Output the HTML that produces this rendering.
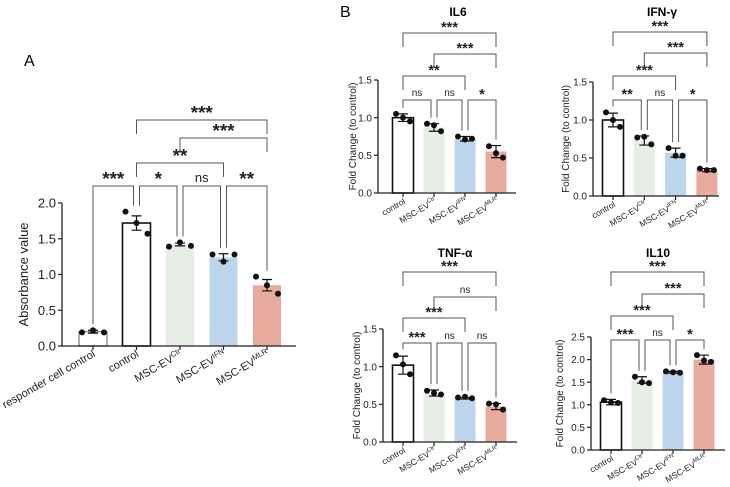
<!DOCTYPE html>
<html><head><meta charset="utf-8"><style>
body{margin:0;background:#fff;}
svg{display:block;font-family:"Liberation Sans",Arial,sans-serif;}
</style></head><body>
<svg id="fig" width="730" height="487" viewBox="0 0 730 487">
<text x="24" y="66" font-size="16">A</text>
<text x="340" y="17" font-size="16">B</text>
</svg>
<script>
// ---- data ----
const catsA = ["responder cell control","control","MSC-EV|Ctr","MSC-EV|IFN","MSC-EV|MLR"];
const catsB = ["control","MSC-EV|Ctr","MSC-EV|IFN","MSC-EV|MLR"];
const meanA = [0.20,1.72,1.42,1.24,0.85];
const errA = [0.02,0.10,0.02,0.05,0.08];
const ptsA = [[0.19,0.22,0.19],[1.88,1.72,1.57],[1.39,1.45,1.40],[1.28,1.18,1.28],[0.97,0.85,0.73]];
const meanIL6 = [1.00,0.87,0.72,0.55];
const errIL6 = [0.05,0.05,0.03,0.08];
const ptsIL6 = [[1.05,1.00,0.95],[0.92,0.90,0.82],[0.75,0.71,0.72],[0.62,0.53,0.47]];
const meanIFNg = [1.00,0.73,0.57,0.34];
const errIFNg = [0.09,0.06,0.06,0.02];
const ptsIFNg = [[1.10,1.00,0.91],[0.77,0.78,0.68],[0.63,0.53,0.53],[0.36,0.34,0.34]];
const meanTNF = [1.02,0.65,0.58,0.47];
const errTNF = [0.12,0.04,0.01,0.04];
const ptsTNF = [[1.15,1.03,0.90],[0.68,0.65,0.63],[0.59,0.60,0.58],[0.51,0.50,0.43]];
const meanIL10 = [1.06,1.55,1.72,2.00];
const errIL10 = [0.06,0.07,0.02,0.10];
const ptsIL10 = [[1.10,1.05,1.04],[1.62,1.50,1.48],[1.74,1.72,1.71],[2.10,1.98,1.95]];
const ticksA = [0,0.5,1.0,1.5,2.0];
const ticksB = [0,0.5,1.0,1.5];
const ticksIL10 = [0,0.5,1.0,1.5,2.0,2.5];
// brackets: [fromIndex, toIndex, label]
const sigA = [[1,4,"***"],[2,4,"***"],[1,3,"**"],[0,1,"***"],[1,2,"*"],[2,3,"ns"],[3,4,"**"]];
const sigIL6 = [[0,3,"***"],[1,3,"***"],[0,2,"**"],[0,1,"ns"],[1,2,"ns"],[2,3,"*"]];
const sigIFNg = [[0,3,"***"],[1,3,"***"],[0,2,"***"],[0,1,"**"],[1,2,"ns"],[2,3,"*"]];
const sigTNF = [[0,3,"***"],[1,3,"ns"],[0,2,"***"],[0,1,"***"],[1,2,"ns"],[2,3,"ns"]];
const sigIL10 = [[0,3,"***"],[1,3,"***"],[0,2,"***"],[0,1,"***"],[1,2,"ns"],[2,3,"*"]];

const fills = {"responder cell control":"#ffffff","control":"#ffffff","MSC-EV|Ctr":"#e6eee6","MSC-EV|IFN":"#bcd5ea","MSC-EV|MLR":"#e6ab9c"};
const NS = "http://www.w3.org/2000/svg";
const svg = document.getElementById("fig");
function el(tag, attrs, parent){
  const e = document.createElementNS(NS, tag);
  for (const k in attrs) e.setAttribute(k, attrs[k]);
  (parent||svg).appendChild(e);
  return e;
}

function drawPanel(p){
  const g = el("g", {});
  
  
  const y = v => p.y0 - (v - 0) / p.ymax * (p.y0 - p.ytop);
  const n = p.cats.length;
  const x = i => p.xFirst + i * p.step;
  if (p.title){
    const t = el("text", {x: p.titleX, y: p.titleY, "font-size": 12, "font-weight": "bold", "text-anchor": "middle"}, g);
    t.textContent = p.title;
    
    
  }
  p.means.forEach((m, i) => {
    const c = p.cats[i];
    const isCtl = c === "control" || c === "responder cell control";
    const r = el("rect", {x: x(i) - p.bw/2, y: y(m), width: p.bw, height: p.y0 - y(m),
      fill: fills[c], stroke: isCtl ? (c === "control" ? "#111" : "#999") : "none", "stroke-width": isCtl ? 1.6 : 0}, g);
    
    
    const e = p.errs[i];
    const eb = el("path", {d: `M${x(i)},${y(m+e)}V${y(m-e)}M${x(i)-5},${y(m+e)}H${x(i)+5}M${x(i)-5},${y(m-e)}H${x(i)+5}`, stroke: "#111", "stroke-width": 1.2, fill: "none"}, g);
    
    
    p.pts[i].forEach((v, j) => {
      const d = el("circle", {cx: x(i) + (j - 1) * p.dx, cy: y(v), r: 3, fill: "#111"}, g);
      
      
    });
  });
  const ax = el("path", {d: `M${p.ax},${p.ytop}V${p.y0}H${p.axEnd}`, stroke: "#222", "stroke-width": 1.3, fill: "none"}, g);
  
  
  p.ticks.forEach(t => {
    const tk = el("line", {x1: p.ax - 4, x2: p.ax, y1: y(t), y2: y(t), stroke: "#222", "stroke-width": 1.2}, g);
    
    
    const tl = el("text", {x: p.ax - 6, y: y(t) + p.fs*0.36, "font-size": p.fs, "text-anchor": "end", fill: "#222"}, g);
    tl.textContent = t.toFixed(1);
    
    
  });
  const yt = el("text", {x: 0, y: 0, "font-size": p.fs, "text-anchor": "middle", transform: `translate(${p.ylabX},${(p.ytop + p.y0)/2}) rotate(-90)`, fill: "#222"}, g);
  yt.textContent = p.ylabel;
  
  
  p.cats.forEach((c, i) => {
    const tk = el("line", {x1: x(i), x2: x(i), y1: p.y0, y2: p.y0 + 4, stroke: "#222", "stroke-width": 1.2}, g);
    
    
    const tl = el("text", {x: 0, y: 0, "font-size": p.xfs, "text-anchor": "end", fill: "#222", transform: `translate(${x(i)+3},${p.y0 + 10}) rotate(-30)`}, g);
    const parts = c.split("|");
    const t1 = el("tspan", {}, tl); t1.textContent = parts[0];
    if (parts[1]){ const t2 = el("tspan", {dy: -4, "font-size": p.xfs*0.7}, tl); t2.textContent = parts[1]; }
    
    
  });
  p.sig.forEach((s, k) => {
    const ly = p.lines[Math.min(k, p.lines.length - 1)];
    const [a, b, lab] = s;
    const isRow = k >= p.lines.length - 1;
    let ya, yb;
    if (isRow){
      ya = y(Math.max(...p.pts[a], p.means[a] + p.errs[a])) - 6;
      yb = y(Math.max(...p.pts[b], p.means[b] + p.errs[b])) - 6;
    } else { ya = ly + 14; yb = ly + 14; }
    const xa = x(a) + (isRow && k > p.lines.length - 1 ? 3 : 0);
    const xb = x(b) - (isRow && k < p.sig.length - 1 ? 3 : 0);
    const br = el("path", {d: `M${xa},${ya}V${ly}H${xb}V${yb}`, stroke: "#555", "stroke-width": 1, fill: "none"}, g);
    
    
    const star = lab !== "ns";
    const tl = el("text", {x: (xa + xb)/2, y: star ? ly - 1 : ly - 4, "font-size": star ? p.fs * 1.45 : p.fs, "font-weight": star ? "bold" : "normal", "text-anchor": "middle", fill: "#222"}, g);
    tl.textContent = lab;
    
    
  });
}

drawPanel({name:"absorbance", cats:catsA, means:meanA, errs:errA, pts:ptsA, ticks:ticksA, sig:sigA,
  ymax:2.0, y0:346, ytop:203, ax:62, axEnd:296, xFirst:93, step:43.5, bw:28, dx:11,
  fs:13, xfs:11, ylabX:28, ylabel:"Absorbance value", lines:[120,138,163,186]});
drawPanel({name:"il6", title:"IL6", titleX:458, titleY:16, cats:catsB, means:meanIL6, errs:errIL6, pts:ptsIL6, ticks:ticksB, sig:sigIL6,
  ymax:1.5, y0:193, ytop:80, ax:378, axEnd:516, xFirst:403, step:31, bw:21, dx:7,
  fs:10, xfs:8.5, ylabX:356, ylabel:"Fold Change (to control)", lines:[33,54,76,100]});
drawPanel({name:"ifn-gamma", title:"IFN-γ", titleX:662, titleY:16, cats:catsB, means:meanIFNg, errs:errIFNg, pts:ptsIFNg, ticks:ticksB, sig:sigIFNg,
  ymax:1.5, y0:196, ytop:82, ax:593, axEnd:719, xFirst:613, step:31.3, bw:21, dx:7,
  fs:10, xfs:8.5, ylabX:569, ylabel:"Fold Change (to control)", lines:[32,53,76,100]});
drawPanel({name:"tnf-alpha", title:"TNF-α", titleX:455, titleY:257, cats:catsB, means:meanTNF, errs:errTNF, pts:ptsTNF, ticks:ticksB, sig:sigTNF,
  ymax:1.5, y0:442, ytop:329, ax:383, axEnd:517, xFirst:403, step:31, bw:21, dx:7,
  fs:10, xfs:8.5, ylabX:360, ylabel:"Fold Change (to control)", lines:[272,297,318,343]});
drawPanel({name:"il10", title:"IL10", titleX:658, titleY:257, cats:catsB, means:meanIL10, errs:errIL10, pts:ptsIL10, ticks:ticksIL10, sig:sigIL10,
  ymax:2.5, y0:450, ytop:337, ax:591, axEnd:725, xFirst:611, step:31, bw:21, dx:7,
  fs:10, xfs:8.5, ylabX:563, ylabel:"Fold Change (to control)", lines:[272,294,316,340]});
</script>
</body></html>
